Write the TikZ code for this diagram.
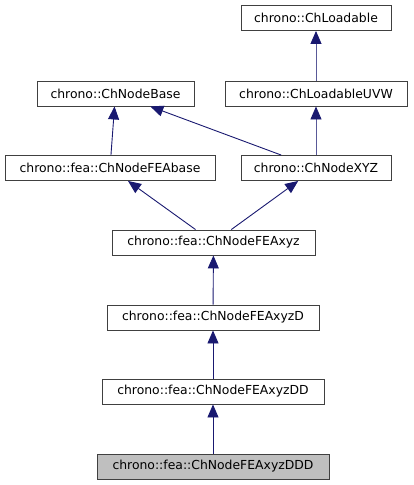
\documentclass[tikz,border=0pt]{standalone}
\usepackage{fontspec}
\setmainfont{DejaVu Sans}
\usetikzlibrary{arrows.meta}
\definecolor{midnightblue}{RGB}{25,25,112}
\definecolor{boxline}{RGB}{64,64,64}
\tikzset{
  cls/.style={draw=boxline,fill=white,line width=0.9pt,minimum height=25pt,inner sep=0pt,font=\fontsize{12.4}{14}\selectfont},
  inh/.style={draw=midnightblue,line width=0.9pt,-{Triangle[length=13pt,width=11pt,color=midnightblue]}},
  inhlight/.style={inh,draw=midnightblue!72}
}
\begin{document}
\begin{tikzpicture}[x=1pt,y=-1pt]
\useasboundingbox (0,0) rectangle (413,485);

\node[cls,minimum width=150pt] (LO) at (316,18) {chrono::ChLoadable};

\node[cls,minimum width=157pt] (NB) at (115.5,93.5) {chrono::ChNodeBase};
\node[cls,minimum width=182pt] (LU) at (316,93.5) {chrono::ChLoadableUVW};

\node[cls,minimum width=210pt] (FB) at (110,168) {chrono::fea::ChNodeFEAbase};
\node[cls,minimum width=150pt] (XY) at (316,168) {chrono::ChNodeXYZ};

\node[cls,minimum width=203pt] (FX) at (213.5,242.5) {chrono::fea::ChNodeFEAxyz};
\node[cls,minimum width=212pt] (FD) at (213,317.5) {chrono::fea::ChNodeFEAxyzD};
\node[cls,minimum width=222pt] (DD) at (213,391.5) {chrono::fea::ChNodeFEAxyzDD};
\node[cls,minimum width=232pt,fill=black!25] (DDD) at (213,466.5) {chrono::fea::ChNodeFEAxyzDDD};

\draw[inhlight] (LU) to (LO);
\draw[inhlight] (XY) to (LU);
\draw[inh] (XY) to (NB);
\draw[inh] (FB) to (NB);
\draw[inh] (FX) to (FB);
\draw[inh] (FX) to (XY);
\draw[inh] (FD) to (FX);
\draw[inh] (DD) to (FD);
\draw[inh] (DDD) to (DD);

\end{tikzpicture}
\end{document}
